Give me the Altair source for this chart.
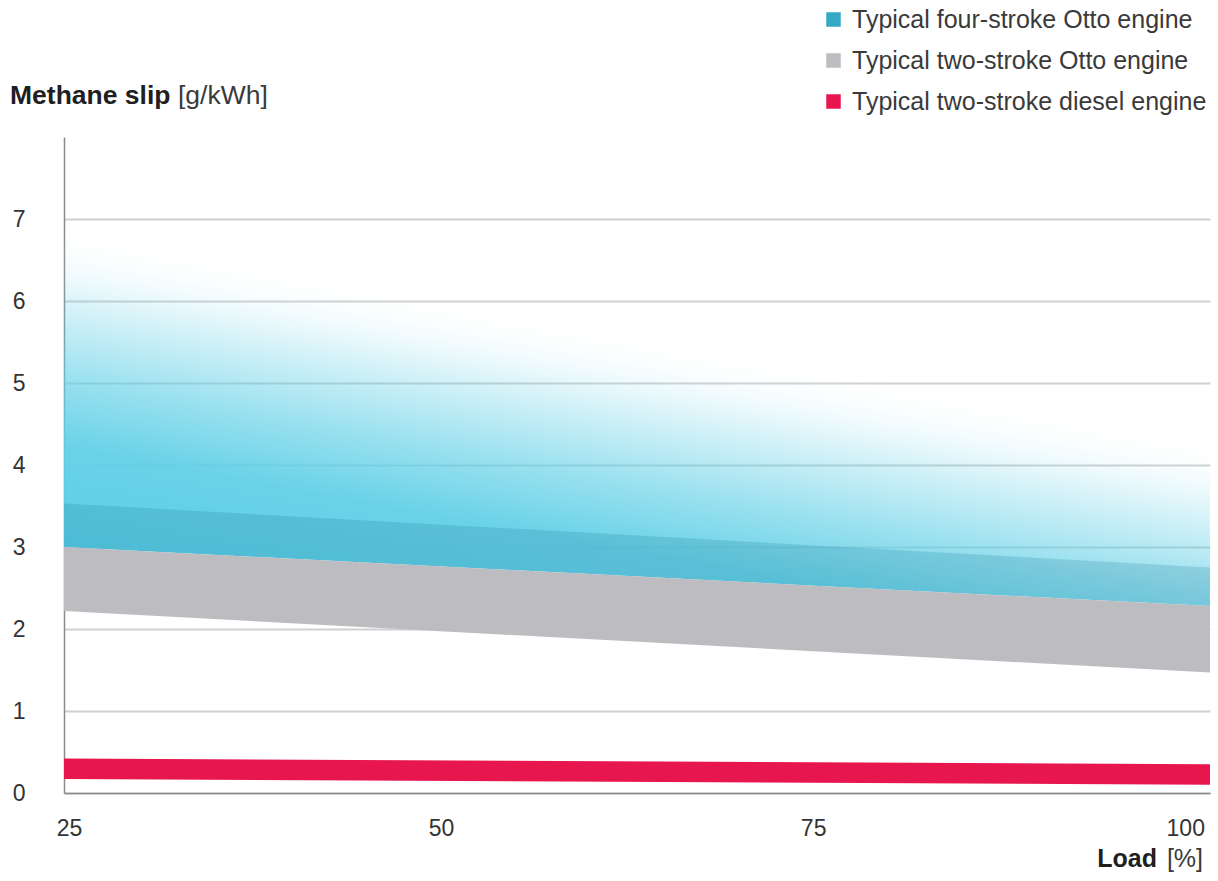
import altair as alt
import pandas as pd

# ---- data ----
load = [25, 102]
engines = [
    "Typical four-stroke Otto engine",
    "Typical two-stroke Otto engine",
    "Typical two-stroke diesel engine",
]
four_low = [3.0, 2.28]
four_high = [3.53, 2.75]
four_fade_top = [7.0, 4.5]
two_otto_low = [2.22, 1.47]
two_otto_high = [3.0, 2.28]
diesel_low = [0.17, 0.10]
diesel_high = [0.42, 0.35]
y_ticks = [0, 1, 2, 3, 4, 5, 6, 7]
x_ticks = [25, 50, 75, 100]
colors = ["#35a9c4", "#bdbdc1", "#e8164e"]

rows = []
for i, l in enumerate(load):
    rows.append({"load": l, "engine": engines[0], "low": four_low[i], "high": four_high[i], "fade": four_fade_top[i]})
    rows.append({"load": l, "engine": engines[1], "low": two_otto_low[i], "high": two_otto_high[i], "fade": two_otto_high[i]})
    rows.append({"load": l, "engine": engines[2], "low": diesel_low[i], "high": diesel_high[i], "fade": diesel_high[i]})
df = pd.DataFrame(rows)

FONT = "Liberation Sans"
W, H = 1146, 656

xscale = alt.Scale(domain=[25, 102], nice=False, zero=False)
yscale = alt.Scale(domain=[0, 8], nice=False)

xaxis = alt.Axis(values=x_ticks, title=None, ticks=False, grid=False, labelOffset=5,
                 labelPadding=24, labelFontSize=23, labelFont=FONT, labelColor="#333333",
                 domainColor="#8a8a8a", domainWidth=1.5, labelFlush=False, format="d")
yaxis = alt.Axis(values=y_ticks, title=None, ticks=False, grid=True, gridColor="#d0d0d0",
                 gridWidth=2, labelPadding=39, labelFontSize=23, labelFont=FONT,
                 labelColor="#333333", domainColor="#8a8a8a", domainWidth=1.5, format="d")

base = alt.Chart(df).encode(x=alt.X("load:Q", scale=xscale, axis=xaxis))

grad = alt.Gradient(
    gradient="linear",
    x1=0, y1=0.83, x2=0.342, y2=0.208,
    stops=[
        alt.GradientStop(color="rgba(92,206,230,1)", offset=0),
        alt.GradientStop(color="rgba(95,207,230,0.93)", offset=0.3),
        alt.GradientStop(color="rgba(95,207,230,0.66)", offset=0.5),
        alt.GradientStop(color="rgba(95,207,230,0.22)", offset=0.77),
        alt.GradientStop(color="rgba(255,255,255,0)", offset=1),
    ],
)

four_filter = alt.datum.engine == engines[0]

cyan = base.transform_filter(four_filter).mark_area(fill=grad).encode(
    y=alt.Y("low:Q", scale=yscale, axis=yaxis), y2="fade:Q"
)
teal = base.transform_filter(four_filter).mark_area(color="#1c7d98", opacity=0.21).encode(
    y=alt.Y("low:Q", scale=yscale), y2="high:Q"
)
others = base.transform_filter(alt.datum.engine != engines[0]).mark_area(opacity=1).encode(
    y=alt.Y("low:Q", scale=yscale),
    y2="high:Q",
    color=alt.Color(
        "engine:N",
        scale=alt.Scale(domain=engines, range=colors),
        legend=alt.Legend(
            title=None, orient="none", legendX=757, legendY=-130, padding=0,
            symbolType="square", symbolSize=210, symbolStrokeWidth=0, symbolOpacity=1,
            labelFontSize=25, labelFont=FONT, labelColor="#3a3a3a", labelOffset=6,
            rowPadding=15, labelLimit=500,
        ),
    ),
)

one = alt.Data(values=[{"a": 1}])


def label(text, x, y, bold, align, size):
    return alt.Chart(one).mark_text(
        text=text, font=FONT, fontSize=size, fontWeight="bold" if bold else "normal",
        color="#1f1f1f" if bold else "#3a3a3a", align=align, baseline="alphabetic",
    ).encode(x=alt.value(x), y=alt.value(y))


titles = [
    label("Methane slip", -54, -33, True, "left", 26.5),
    label("[g/kWh]", 114, -33, False, "left", 26.5),
    label("Load", 1093, 730, True, "right", 25),
    label("[%]", 1139, 730, False, "right", 25),
]

chart = alt.layer(cyan, teal, others, *titles).properties(
    width=W, height=H,
    autosize=alt.AutoSizeParams(type="none"),
    padding={"left": 64, "top": 137, "right": 8, "bottom": 88},
    background="white",
).configure_view(stroke=None)

chart.save("out.html", embed_options={"renderer": "svg", "actions": False})
